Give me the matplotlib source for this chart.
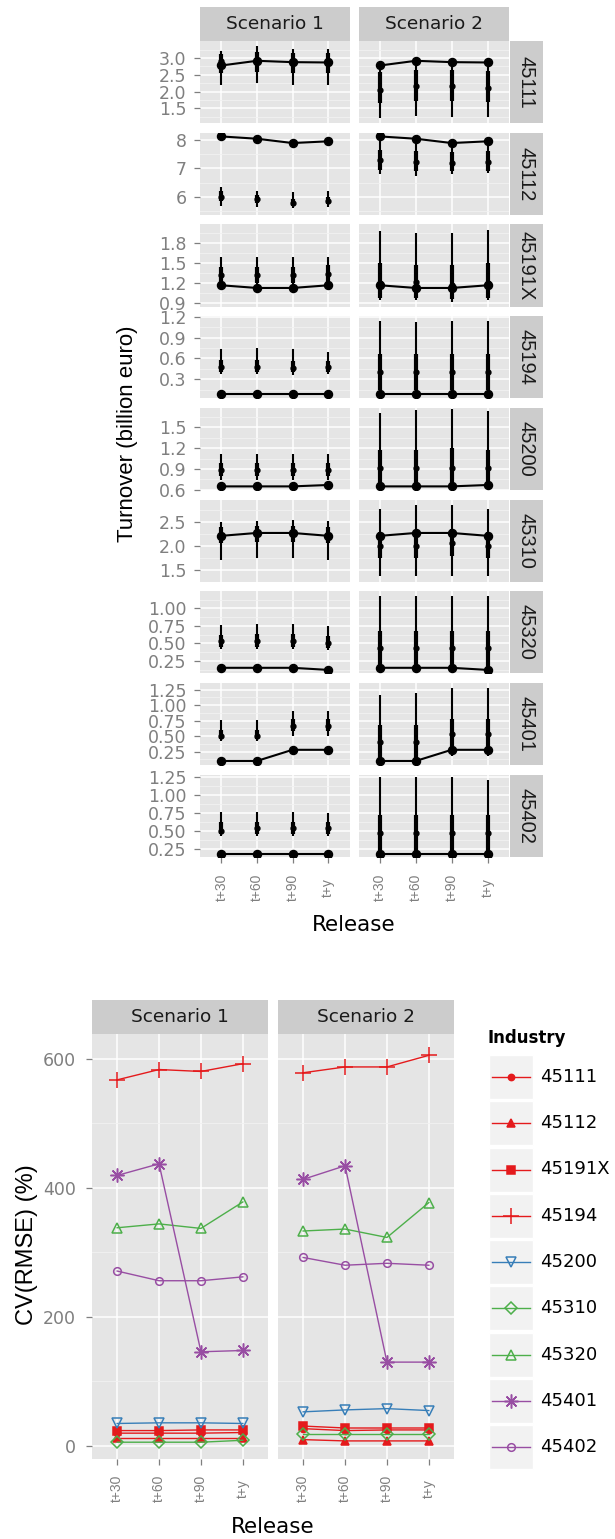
import matplotlib
matplotlib.use("Agg")
import matplotlib.pyplot as plt
from matplotlib.patches import Rectangle
from matplotlib.lines import Line2D
from matplotlib.ticker import FormatStrFormatter
import numpy as np

# ---------------- data ----------------
industries = ["45111", "45112", "45191X", "45194", "45200", "45310", "45320", "45401", "45402"]
releases = ["t+30", "t+60", "t+90", "t+y"]
scenarios = ["Scenario 1", "Scenario 2"]

# Top chart: turnover (billion euro); true values (line) per industry
true_turnover = [
    [2.78, 2.92, 2.88, 2.87],
    [8.11, 8.03, 7.88, 7.94],
    [1.17, 1.13, 1.13, 1.17],
    [0.09, 0.09, 0.09, 0.09],
    [0.65, 0.65, 0.65, 0.67],
    [2.21, 2.27, 2.27, 2.21],
    [0.15, 0.15, 0.15, 0.12],
    [0.10, 0.10, 0.28, 0.28],
    [0.18, 0.18, 0.18, 0.18],
]

# Scenario 1 estimates: median, inner range, outer range
s1_med = [
    [2.90, 2.93, 2.88, 2.88], [6.00, 5.94, 5.80, 5.86], [1.32, 1.32, 1.32, 1.34],
    [0.47, 0.47, 0.46, 0.47], [0.88, 0.88, 0.88, 0.89], [2.22, 2.27, 2.27, 2.22],
    [0.53, 0.53, 0.53, 0.50], [0.50, 0.50, 0.66, 0.66], [0.50, 0.53, 0.53, 0.53],
]
s1_inner_lo = [
    [2.55, 2.58, 2.55, 2.55], [5.85, 5.80, 5.70, 5.75], [1.20, 1.20, 1.20, 1.21],
    [0.40, 0.40, 0.40, 0.40], [0.80, 0.80, 0.80, 0.80], [2.05, 2.08, 2.08, 2.05],
    [0.45, 0.45, 0.45, 0.44], [0.45, 0.45, 0.58, 0.58], [0.45, 0.45, 0.45, 0.45],
]
s1_inner_hi = [
    [3.12, 3.18, 3.15, 3.15], [6.20, 6.08, 5.95, 6.00], [1.45, 1.45, 1.45, 1.47],
    [0.58, 0.58, 0.57, 0.57], [0.98, 0.98, 0.98, 0.98], [2.40, 2.42, 2.42, 2.40],
    [0.62, 0.63, 0.63, 0.60], [0.60, 0.60, 0.77, 0.77], [0.62, 0.62, 0.62, 0.62],
]
s1_outer_lo = [
    [2.20, 2.25, 2.20, 2.20], [5.70, 5.65, 5.62, 5.64], [1.15, 1.12, 1.12, 1.15],
    [0.38, 0.38, 0.36, 0.37], [0.74, 0.74, 0.74, 0.74], [1.70, 1.75, 1.75, 1.70],
    [0.42, 0.42, 0.42, 0.40], [0.42, 0.42, 0.50, 0.50], [0.42, 0.42, 0.42, 0.42],
]
s1_outer_hi = [
    [3.22, 3.35, 3.28, 3.28], [6.36, 6.22, 6.18, 6.20], [1.60, 1.60, 1.60, 1.60],
    [0.73, 0.75, 0.73, 0.70], [1.12, 1.12, 1.12, 1.12], [2.50, 2.52, 2.55, 2.52],
    [0.76, 0.78, 0.78, 0.75], [0.76, 0.76, 0.90, 0.90], [0.76, 0.76, 0.76, 0.74],
]

# Scenario 2 estimates
s2_med = [
    [2.06, 2.17, 2.17, 2.12], [7.28, 7.22, 7.18, 7.22], [1.20, 1.22, 1.18, 1.20],
    [0.41, 0.41, 0.41, 0.41], [0.91, 0.91, 0.91, 0.91], [2.00, 2.00, 2.05, 2.00],
    [0.44, 0.44, 0.44, 0.44], [0.40, 0.40, 0.53, 0.53], [0.47, 0.47, 0.47, 0.47],
]
s2_inner_lo = [
    [1.65, 1.72, 1.72, 1.68], [6.95, 6.90, 6.90, 6.92], [0.98, 0.98, 0.97, 0.98],
    [0.15, 0.15, 0.15, 0.15], [0.68, 0.68, 0.68, 0.68], [1.75, 1.75, 1.78, 1.75],
    [0.15, 0.15, 0.15, 0.13], [0.12, 0.12, 0.25, 0.25], [0.19, 0.19, 0.19, 0.19],
]
s2_inner_hi = [
    [2.60, 2.65, 2.65, 2.62], [7.65, 7.62, 7.58, 7.60], [1.50, 1.48, 1.47, 1.50],
    [0.67, 0.67, 0.67, 0.67], [1.18, 1.18, 1.20, 1.18], [2.30, 2.32, 2.35, 2.30],
    [0.68, 0.68, 0.67, 0.68], [0.68, 0.68, 0.78, 0.78], [0.72, 0.72, 0.72, 0.72],
]
s2_outer_lo = [
    [1.22, 1.27, 1.25, 1.25], [6.82, 6.75, 6.80, 6.85], [0.95, 0.95, 0.92, 0.95],
    [0.09, 0.09, 0.09, 0.09], [0.65, 0.65, 0.65, 0.67], [1.37, 1.37, 1.37, 1.37],
    [0.15, 0.15, 0.15, 0.12], [0.10, 0.10, 0.18, 0.18], [0.18, 0.18, 0.18, 0.18],
]
s2_outer_hi = [
    [2.78, 2.92, 2.88, 2.87], [8.11, 8.03, 7.88, 7.94], [1.99, 1.96, 1.96, 2.00],
    [1.14, 1.13, 1.14, 1.14], [1.70, 1.75, 1.76, 1.74], [2.78, 2.85, 2.85, 2.78],
    [1.18, 1.18, 1.17, 1.18], [1.17, 1.20, 1.28, 1.28], [1.24, 1.24, 1.24, 1.20],
]

# Bottom chart: CV(RMSE) (%)
cv_s1 = [
    [20, 20, 20, 21], [13, 13, 13, 13], [24, 24, 25, 25],
    [567, 583, 580, 592], [35, 36, 36, 35], [6, 6, 6, 9],
    [338, 344, 337, 378], [419, 437, 146, 148], [271, 256, 256, 262],
]
cv_s2 = [
    [27, 24, 25, 25], [10, 8, 8, 8], [31, 28, 28, 28],
    [578, 587, 587, 605], [53, 56, 58, 55], [18, 18, 18, 18],
    [333, 336, 323, 377], [413, 434, 130, 130], [292, 280, 283, 280],
]

# per-row axis settings for the top chart
row_ylim = [(1.06, 3.51), (5.38, 8.24), (0.85, 2.085), (0.026, 1.21), (0.598, 1.78),
            (1.25, 2.97), (0.07, 1.245), (0.033, 1.36), (0.135, 1.28)]
row_ticks = [[1.5, 2.0, 2.5, 3.0], [6, 7, 8], [0.9, 1.2, 1.5, 1.8], [0.3, 0.6, 0.9, 1.2],
             [0.6, 0.9, 1.2, 1.5], [1.5, 2.0, 2.5], [0.25, 0.50, 0.75, 1.00],
             [0.25, 0.50, 0.75, 1.00, 1.25], [0.25, 0.50, 0.75, 1.00, 1.25]]
row_fmt = ["%.1f", "%d", "%.1f", "%.1f", "%.1f", "%.1f", "%.2f", "%.2f", "%.2f"]
cv_ticks = [0, 200, 400, 600]
cv_ylim = (-20, 638)

# ---------------- styles ----------------
RED, BLUE, GREEN, PURPLE = "#E41A1C", "#377EB8", "#4DAF4A", "#984EA3"
line_styles = {
    "45111": dict(color=RED, marker="o", ms=4.5, filled=True),
    "45112": dict(color=RED, marker="^", ms=6, filled=True),
    "45191X": dict(color=RED, marker="s", ms=5.5, filled=True),
    "45194": dict(color=RED, marker="+", ms=11, filled=True),
    "45200": dict(color=BLUE, marker="v", ms=7.5, filled=False),
    "45310": dict(color=GREEN, marker="D", ms=6, filled=False),
    "45320": dict(color=GREEN, marker="^", ms=7.5, filled=False),
    "45401": dict(color=PURPLE, marker=(8, 2, 0), ms=10, filled=True),
    "45402": dict(color=PURPLE, marker="o", ms=5.5, filled=False),
}

PANEL_BG = "#E5E5E5"
STRIP_BG = "#CCCCCC"
MINOR_COL = "#F2F2F2"
TICK_COL = "#7F7F7F"
HFONT = "DejaVu Sans"
VFONT = "Liberation Sans"

W, H = 615, 1539
fig = plt.figure(figsize=(W / 100, H / 100), dpi=100)
fig.patch.set_facecolor("white")


def rect(x0, y0, x1, y1):
    return [x0 / W, 1 - y1 / H, (x1 - x0) / W, (y1 - y0) / H]


def fpos(x, y):
    return x / W, 1 - y / H


def minor_positions(ticks, lim):
    step = ticks[1] - ticks[0]
    m = np.arange(ticks[0] - step / 2, lim[1] + 1e-9, step)
    return [v for v in m if lim[0] <= v <= lim[1]]


def style_panel(ax, ylim, yticks, fmt, show_y, show_x, ypad, xpad):
    ax.set_facecolor(PANEL_BG)
    for s in ax.spines.values():
        s.set_visible(False)
    ax.set_xlim(-0.6, len(releases) - 0.4)
    ax.set_ylim(*ylim)
    ax.set_xticks(range(len(releases)))
    ax.set_yticks(yticks)
    ax.set_yticks(minor_positions(yticks, ylim), minor=True)
    ax.yaxis.set_major_formatter(FormatStrFormatter(fmt))
    ax.grid(True, which="major", color="white", lw=1.1)
    ax.grid(True, which="minor", axis="y", color=MINOR_COL, lw=0.6)
    ax.set_axisbelow(True)
    ax.tick_params(which="minor", length=0)
    ax.tick_params(axis="y", which="major", length=4.3, width=0.9, color=TICK_COL,
                   labelcolor=TICK_COL, labelsize=12.5, pad=ypad,
                   left=show_y, labelleft=show_y)
    ax.tick_params(axis="x", which="major", length=4.3, width=0.9, color=TICK_COL,
                   labelcolor=TICK_COL, pad=xpad, bottom=show_x, labelbottom=show_x)
    for lab in ax.get_yticklabels():
        lab.set_fontfamily(HFONT)
    if show_x:
        ax.set_xticklabels(releases, rotation=90, fontsize=10, fontfamily=VFONT)
        for lab in ax.get_xticklabels():
            lab.set_va("center")
            lab.set_ha("center")
    else:
        ax.set_xticklabels([])


def strip(x0, y0, x1, y1, text, rotation=0, family=HFONT, size=13.3):
    sa = fig.add_axes(rect(x0, y0, x1, y1))
    sa.set_facecolor(STRIP_BG)
    sa.set_xticks([]); sa.set_yticks([])
    for s in sa.spines.values():
        s.set_visible(False)
    sa.text(0.5, 0.5, text, transform=sa.transAxes, ha="center", va="center",
            rotation=rotation, fontsize=size, family=family, color="#1A1A1A")


# ---------------- top chart ----------------
top_cols = [(200, 349.5), (358.5, 509)]
row_y0, row_h, row_gap = 41, 82.2, 9.5
s_arrays = [
    (s1_med, s1_inner_lo, s1_inner_hi, s1_outer_lo, s1_outer_hi),
    (s2_med, s2_inner_lo, s2_inner_hi, s2_outer_lo, s2_outer_hi),
]
x = np.arange(len(releases))
nrows = len(industries)
for r, ind in enumerate(industries):
    y0 = row_y0 + r * (row_h + row_gap)
    y1 = y0 + row_h
    for c, (med, ilo, ihi, olo, ohi) in enumerate(s_arrays):
        ax = fig.add_axes(rect(top_cols[c][0], y0, top_cols[c][1], y1))
        style_panel(ax, row_ylim[r], row_ticks[r], row_fmt[r],
                    show_y=(c == 0), show_x=(r == nrows - 1), ypad=5.3, xpad=17.5)
        ax.vlines(x, olo[r], ohi[r], color="black", lw=1.5)
        ax.vlines(x, ilo[r], ihi[r], color="black", lw=3.0)
        ax.plot(x, med[r], "o", color="black", ms=3.5)
        ax.plot(x, true_turnover[r], "-o", color="black", lw=1.5, ms=5.8)
    strip(509.5, y0, 543, y1, ind, rotation=-90, family=VFONT, size=14.5)

for c, scen in enumerate(scenarios):
    strip(top_cols[c][0], 7, top_cols[c][1], 41, scen)

fig.text(*fpos(128, 434), "Turnover (billion euro)", rotation=90, ha="center", va="center",
         fontsize=16, family=VFONT, color="black")
fig.text(*fpos(354, 925), "Release", ha="center", va="center", fontsize=15.5,
         family=HFONT, color="black")

# ---------------- bottom chart ----------------
bot_cols = [(92, 268), (278, 454)]
for c, (scen, cv) in enumerate(zip(scenarios, [cv_s1, cv_s2])):
    ax = fig.add_axes(rect(bot_cols[c][0], 1034, bot_cols[c][1], 1459))
    style_panel(ax, cv_ylim, cv_ticks, "%d", show_y=(c == 0), show_x=True,
                ypad=7.2, xpad=17.0)
    for name, vals in zip(industries, cv):
        st = line_styles[name]
        ax.plot(x, vals, color=st["color"], lw=1.0, marker=st["marker"], ms=st["ms"],
                mfc=st["color"] if st["filled"] else "none", mec=st["color"], mew=1.1)
    strip(bot_cols[c][0], 1000, bot_cols[c][1], 1034, scen)

fig.text(*fpos(27, 1245), "CV(RMSE) (%)", rotation=90, ha="center", va="center",
         fontsize=17, family=VFONT, color="black")
fig.text(*fpos(273, 1527), "Release", ha="center", va="center", fontsize=15.5,
         family=HFONT, color="black")

# legend
lg = fig.add_axes(rect(480, 1020, 615, 1475))
lg.set_xlim(480, 615)
lg.set_ylim(1475, 1020)
lg.axis("off")
lg.text(488, 1038, "Industry", ha="left", va="center", fontsize=12, fontweight="bold",
        family=HFONT, color="black")
key_top, key_step, key_size = 1055, 46.25, 44
for i, name in enumerate(industries):
    st = line_styles[name]
    ky = key_top + i * key_step
    lg.add_patch(Rectangle((489, ky), key_size, key_size, facecolor=MINOR_COL,
                           edgecolor="white", lw=1))
    yc = ky + key_size / 2
    lg.add_line(Line2D([492, 530], [yc, yc], color=st["color"], lw=1.0))
    lg.add_line(Line2D([511], [yc], color=st["color"], marker=st["marker"], ms=st["ms"],
                       mfc=st["color"] if st["filled"] else "none", mec=st["color"], mew=1.1))
    lg.text(540, yc, name, ha="left", va="center", fontsize=13, family=HFONT, color="black")

fig.savefig("out.png", dpi=100, facecolor="white")
